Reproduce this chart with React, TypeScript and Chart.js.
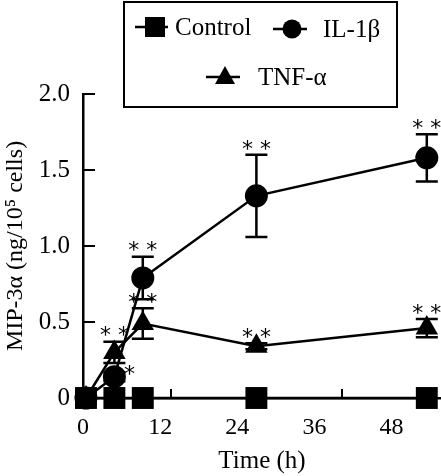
import React, { useEffect, useRef } from 'react';
import { Chart, registerables } from 'chart.js';

Chart.register(...registerables);

// ---- data ----
const hours = [0, 4, 8, 24, 48];
const controlValues = [0, 0, 0, 0, 0];
const il1bValues = [0, 0.14, 0.79, 1.33, 1.58];
const il1bErrors = [0, 0.03, 0.14, 0.27, 0.155];
const tnfValues = [0, 0.3, 0.49, 0.34, 0.46];
const tnfErrors = [0, 0.07, 0.1, 0.02, 0.06];
const il1bMarks = ['', '*', '* *', '* *', '* *'];
const tnfMarks = ['', '* *', '* *', '* *', '* *'];
const seriesLabels = ['Control', 'IL-1β', 'TNF-α'];
const xTickMarks = [12, 24, 36, 48];
const xTickLabels = ['0', '12', '24', '36', '48'];
const yTickValues = [0, 0.5, 1.0, 1.5, 2.0];
const yTickLabels = ['0', '0.5', '1.0', '1.5', '2.0'];
const xTitle = 'Time (h)';
const yTitle = 'MIP-3α (ng/10⁵ cells)';

const SERIF = '"Liberation Serif", "Times New Roman", serif';
const LW = 2.5;

const errorBarPlugin = {
  id: 'errorBars',
  beforeDatasetsDraw(chart: any) {
    const { ctx } = chart;
    const xs = chart.scales.x;
    const ys = chart.scales.y;
    const sets = [
      { v: il1bValues, e: il1bErrors },
      { v: tnfValues, e: tnfErrors },
    ];
    ctx.save();
    ctx.strokeStyle = '#000';
    ctx.lineWidth = LW;
    sets.forEach((s) => {
      s.v.forEach((val, i) => {
        const err = s.e[i];
        if (!err) return;
        const px = xs.getPixelForValue(hours[i]);
        const top = ys.getPixelForValue(val + err);
        const bot = ys.getPixelForValue(val - err);
        ctx.beginPath();
        ctx.moveTo(px, top);
        ctx.lineTo(px, bot);
        ctx.moveTo(px - 11, top);
        ctx.lineTo(px + 11, top);
        ctx.moveTo(px - 11, bot);
        ctx.lineTo(px + 11, bot);
        ctx.stroke();
      });
    });
    ctx.restore();
  },
  afterDatasetsDraw(chart: any) {
    const { ctx } = chart;
    const xs = chart.scales.x;
    const ys = chart.scales.y;
    ctx.save();
    ctx.fillStyle = '#000';
    ctx.font = '22px "DejaVu Sans", sans-serif';
    ctx.textAlign = 'center';
    ctx.textBaseline = 'middle';
    const sets = [
      { v: il1bValues, e: il1bErrors, m: il1bMarks },
      { v: tnfValues, e: tnfErrors, m: tnfMarks },
    ];
    sets.forEach((s) => {
      s.m.forEach((mark, i) => {
        if (!mark) return;
        const px = xs.getPixelForValue(hours[i]);
        if (mark === '*') {
          const py = ys.getPixelForValue(s.v[i]);
          ctx.fillText('*', px + 15, py - 1);
        } else {
          const top = ys.getPixelForValue(s.v[i] + s.e[i]);
          ctx.fillText('*', px - 9, top - 5);
          ctx.fillText('*', px + 9, top - 5);
        }
      });
    });
    ctx.restore();
  },
};

const inwardTicksPlugin = {
  id: 'inwardTicks',
  afterDraw(chart: any) {
    const { ctx, chartArea } = chart;
    const xs = chart.scales.x;
    const ys = chart.scales.y;
    ctx.save();
    ctx.strokeStyle = '#000';
    ctx.lineWidth = 2;
    ctx.beginPath();
    yTickValues.forEach((v) => {
      if (v === 0) return;
      const py = Math.round(ys.getPixelForValue(v));
      ctx.moveTo(chartArea.left, py);
      ctx.lineTo(chartArea.left + 12, py);
    });
    xTickMarks.forEach((v) => {
      const px = Math.round(xs.getPixelForValue(v));
      ctx.moveTo(px, chartArea.bottom);
      ctx.lineTo(px, chartArea.bottom - 9);
    });
    ctx.stroke();
    ctx.restore();
  },
};

const legendPlugin = {
  id: 'boxLegend',
  afterDraw(chart: any) {
    const { ctx } = chart;
    ctx.save();
    ctx.fillStyle = '#fff';
    ctx.fillRect(124, 2, 273, 105);
    ctx.strokeStyle = '#000';
    ctx.lineWidth = 2;
    ctx.strokeRect(124, 2, 273, 105);
    const items = [
      { lx0: 135, lx1: 168, mx: 155, y: 27, tx: 175, shape: 'rect' },
      { lx0: 273, lx1: 307, mx: 292, y: 29, tx: 323, shape: 'circle' },
      { lx0: 206, lx1: 240, mx: 225, y: 77, tx: 258, shape: 'triangle' },
    ];
    ctx.fillStyle = '#000';
    ctx.font = '25px ' + SERIF;
    ctx.textBaseline = 'middle';
    ctx.textAlign = 'left';
    items.forEach((it, i) => {
      ctx.lineWidth = LW;
      ctx.beginPath();
      ctx.moveTo(it.lx0, it.y);
      ctx.lineTo(it.lx1, it.y);
      ctx.stroke();
      ctx.beginPath();
      if (it.shape === 'rect') {
        ctx.rect(it.mx - 10, it.y - 10, 20, 20);
      } else if (it.shape === 'circle') {
        ctx.arc(it.mx, it.y, 9.5, 0, Math.PI * 2);
      } else {
        ctx.moveTo(it.mx, it.y - 11);
        ctx.lineTo(it.mx + 10, it.y + 7);
        ctx.lineTo(it.mx - 10, it.y + 7);
        ctx.closePath();
      }
      ctx.fill();
      ctx.fillText(seriesLabels[i], it.tx, it.y + 1);
    });
    ctx.restore();
  },
};

export default function App() {
  const canvasRef = useRef<HTMLCanvasElement>(null);

  useEffect(() => {
    if (!canvasRef.current) return;
    const tickFontX = { family: SERIF, size: 24 };
    const tickFontY = { family: SERIF, size: 25 };
    const titleFontX = { family: SERIF, size: 25 };
    const titleFontY = { family: SERIF, size: 24 };
    const mk = (label: string, values: number[], style: string, r: number) => ({
      label,
      data: hours.map((h, i) => ({ x: h, y: values[i] })),
      borderColor: '#000',
      backgroundColor: '#000',
      borderWidth: LW,
      pointStyle: style,
      pointRadius: r,
      pointBorderWidth: 0,
      clip: false,
    });
    const chart = new Chart(canvasRef.current, {
      type: 'line',
      data: {
        datasets: [
          mk(seriesLabels[0], controlValues, 'rect', 15.5),
          mk(seriesLabels[1], il1bValues, 'circle', 11.5),
          mk(seriesLabels[2], tnfValues, 'triangle', 13),
        ] as any,
      },
      options: {
        animation: false,
        responsive: true,
        maintainAspectRatio: false,
        layout: { autoPadding: false, padding: { top: 94, right: 0, left: 0, bottom: 0 } },
        plugins: { legend: { display: false }, tooltip: { enabled: false } },
        scales: {
          x: { type: 'linear', display: false, min: -0.42, max: 50 },
          xl: {
            type: 'linear',
            position: 'bottom',
            min: 0,
            max: 55.7,
            afterBuildTicks: (s: any) => {
              s.ticks = xTickLabels.map((l) => ({ value: Number(l) }));
            },
            ticks: {
              callback: (_v: any, i: number) => xTickLabels[i],
              font: tickFontX,
              color: '#000',
              padding: 15,
              maxRotation: 0,
              autoSkip: false,
            },
            grid: { display: false, drawTicks: false },
            border: { display: true, color: '#000', width: LW },
            title: { display: true, text: xTitle, font: titleFontX, color: '#000', padding: { top: 0, bottom: 0 } },
            afterFit: (s: any) => {
              s.height = 78;
              s.paddingLeft = 0;
              s.paddingRight = 0;
            },
          },
          y: {
            type: 'linear',
            min: 0,
            max: 2,
            afterBuildTicks: (s: any) => {
              s.ticks = yTickValues.map((v) => ({ value: v }));
            },
            ticks: {
              callback: (_v: any, i: number) => yTickLabels[i],
              font: tickFontY,
              color: '#000',
              padding: 13,
            },
            grid: { display: false, drawTicks: false },
            border: { display: true, color: '#000', width: LW },
            title: { display: true, text: yTitle, font: titleFontY, color: '#000', padding: { top: 1, bottom: 0 } },
            afterFit: (s: any) => {
              s.width = 83;
            },
          },
        },
      },
      plugins: [errorBarPlugin, inwardTicksPlugin, legendPlugin],
    });
    return () => chart.destroy();
  }, []);

  return (
    <div style={{ position: 'fixed', left: 0, top: 0, width: 441, height: 476, background: '#fff' }}>
      <canvas ref={canvasRef} />
    </div>
  );
}
